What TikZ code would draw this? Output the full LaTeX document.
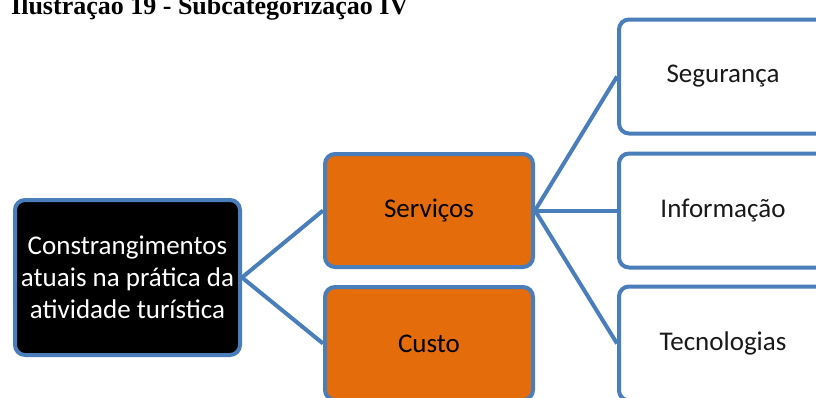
\documentclass[tikz,border=0pt]{standalone}
\usepackage{fontspec}
\setmainfont{Carlito}
\newfontfamily\titlefont{Liberation Serif}
\definecolor{bordblue}{HTML}{4A7EBB}
\definecolor{boxorange}{HTML}{E46C0A}
\begin{document}
\begin{tikzpicture}[x=1pt,y=-1pt,
  box/.style={draw=bordblue, line width=4pt, rounded corners=10pt, inner sep=0pt, align=center,
    font=\fontsize{27}{32}\selectfont},
  rootbox/.style={box, fill=black, text=white, minimum width=225pt, minimum height=155pt},
  midbox/.style={box, fill=boxorange, text=black, minimum width=208pt, minimum height=113pt},
  leafbox/.style={box, fill=white, text=black!90, minimum width=208pt, minimum height=114pt},
  link/.style={draw=bordblue, line width=4pt}
]
\clip (0,0) rectangle (816,397);
\fill[white] (0,0) rectangle (816,397);
\node[anchor=base west, inner sep=0pt, font=\titlefont\bfseries\fontsize{26}{30}\selectfont] (title) at (11,14) {Ilustração 19 - Subcategorização IV};
\node[rootbox] (root) at (127.5,277.5) {Constrangimentos\\atuais na prática da\\atividade turística};
\node[midbox] (serv) at (429,210.5) {Serviços};
\node[midbox] (custo) at (429,343.5) {Custo};
\node[leafbox] (seg) at (723,76.5) {Segurança};
\node[leafbox] (info) at (723,210.5) {Informação};
\node[leafbox] (tec) at (723,343.5) {Tecnologias};
\draw[link] (root.east) -- (serv.west);
\draw[link] (root.east) -- (custo.west);
\draw[link] (serv.east) -- (seg.west);
\draw[link] (serv.east) -- (info.west);
\draw[link] (serv.east) -- (tec.west);
\end{tikzpicture}
\end{document}
